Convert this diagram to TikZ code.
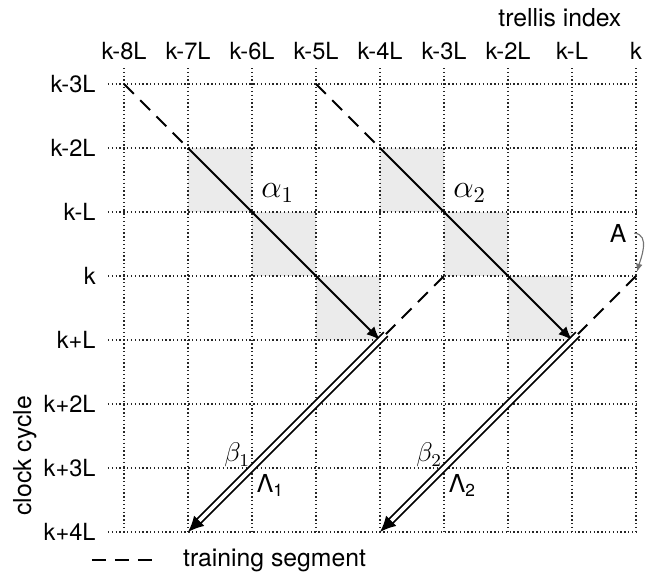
\documentclass[tikz,border=0pt]{standalone}
\usepackage{fontspec}
\setmainfont{TeX Gyre Heros}
\usetikzlibrary{
    arrows.meta,  % For arrow tips
    positioning   % For label positioning
}

\begin{document}
\begin{tikzpicture}[
    >=Latex, % Set default arrow tip style
    font=\fontsize{10.5}{12}\selectfont,
    gridline/.style={black!85, line width=0.6pt, dash pattern=on 0.6pt off 1.1pt}, % dotted trellis grid
    shaded/.style={fill=black!8}, % cells covered by a forward pass
    train/.style={line width=0.9pt, dash pattern=on 6.2pt off 4pt}, % training segment
    fwd/.style={line width=0.9pt, -{Latex[length=6pt,width=5pt]}}, % alpha recursion
    bwd/.style={double, double distance=1.6pt, line width=0.8pt, -{Latex[length=7pt,width=6.5pt]}}, % beta recursion
    axislabel/.style={font=\fontsize{11}{13}\selectfont}
]

    \useasboundingbox (-1.9375,-7.6875) rectangle (8.203,1.3125);

    % Shaded cells of the two windows
    \foreach \dx in {0,3}{
        \fill[shaded] (1+\dx,-1) rectangle (2+\dx,-2);
        \fill[shaded] (2+\dx,-2) rectangle (3+\dx,-3);
        \fill[shaded] (3+\dx,-3) rectangle (4+\dx,-4);
    }

    % Dotted grid
    \foreach \j in {0,...,7}
        \draw[gridline] (-0.25,-\j) -- (8,-\j);
    \foreach \i in {0,...,8}
        \draw[gridline] (\i,0.25) -- (\i,-7);

    % Column labels (trellis index)
    \foreach \i/\txt in {0/k-8L,1/k-7L,2/k-6L,3/k-5L,4/k-4L,5/k-3L,6/k-2L,7/k-L,8/k}
        \node (c\i) at (\i,0.52) {\txt};
    % Row labels (clock cycle)
    \foreach \j/\txt in {0/k-3L,1/k-2L,2/k-L,3/k,4/k+L,5/k+2L,6/k+3L,7/k+4L}
        \node[anchor=east] (r\j) at (-0.32,-\j) {\txt};

    \node[axislabel] (trellis) at (6.81,1.03) {trellis index};
    \node[axislabel, rotate=90] (clock) at (-1.55,-5.81) {clock cycle};

    % Two decoding windows, shifted by 3L
    \foreach \n/\dx in {1/0,2/3}{
        \coordinate (s\n) at (0+\dx,0);        % start of forward training
        \coordinate (a\n) at (1+\dx,-1);       % start of alpha
        \coordinate (e\n) at (4+\dx,-4);       % end of alpha
        \coordinate (t\n) at (5+\dx,-3);       % start of backward training
        \coordinate (b\n) at (4.09+\dx,-3.91); % start of beta
        \coordinate (f\n) at (1+\dx,-7);       % end of beta

        \draw[train] (s\n) -- (a\n);
        \draw[fwd] (a\n) -- (e\n);
        \draw[train] (t\n) -- (b\n);
        \draw[bwd] (b\n) -- (f\n);

        \node[font=\fontsize{14}{16}\selectfont] (alpha\n) at (2.4+\dx,-1.7) {$\alpha_\n$};
        \node[font=\fontsize{12}{14}\selectfont] (beta\n) at (1.77+\dx,-5.8) {$\beta_\n$};
        \node[font=\fontsize{11}{13}\selectfont] (lambda\n) at (2.29+\dx,-6.27) {Λ\textsubscript{\n}};
    }

    % Label A with thin pointer
    \node[axislabel] (A) at (7.72,-2.33) {A};
    \draw[black!55, line width=0.5pt, -{Latex[length=3.5pt,width=3pt]}, shorten >=2pt]
        (A.east) to[out=-5, in=75] (t2);

    % Legend
    \coordinate (legA) at (-0.5,-7.44);
    \coordinate (legB) at (0.5,-7.44);
    \draw[train] (legA) -- (legB);
    \node[right=0.3 of legB, axislabel] (legtext) {training segment};

\end{tikzpicture}
\end{document}
